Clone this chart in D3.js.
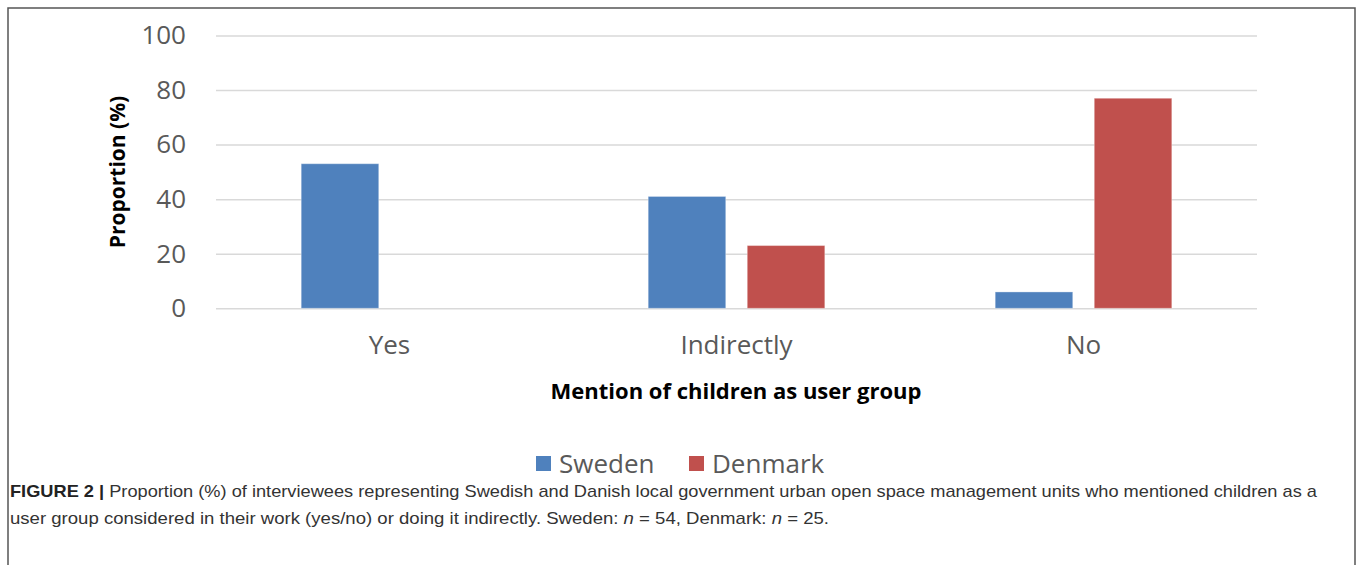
<!DOCTYPE html>
<meta charset="utf-8">
<style>
    body { margin: 0; background: #fff; }
    .tick text { font: 26px "Open Sans", sans-serif; fill: #595959; }
    .grid line { stroke: #d9d9d9; stroke-width: 1.5px; }
    .caption { font-family: "Liberation Sans Narrow", "Liberation Sans", sans-serif; font-size: 17px; fill: #333; }
</style>
<svg width="1358" height="565"></svg>
<script src="https://cdn.jsdelivr.net/npm/d3@7"></script>
<script>

    // answers per category, in percent
    const categories = ["Yes", "Indirectly", "No"];
    const series = ["Sweden", "Denmark"];
    const sweden = [53, 41, 6];
    const denmark = [0, 23, 77];
    const yTicks = [0, 20, 40, 60, 80, 100];
    const colors = ["#4f81bd", "#c0504d"];

    const captionLines = [
        "Proportion (%) of interviewees representing Swedish and Danish local government urban open space management units who mentioned children as a",
        "user group considered in their work (yes/no) or doing it indirectly. Sweden: "
    ];

    var svg = d3.select("svg");

    // frame round the figure
    svg.append("rect")
        .attr("x", 8).attr("y", 8)
        .attr("width", 1347).attr("height", 600)
        .attr("fill", "none")
        .attr("stroke", "#555")
        .attr("stroke-width", 1.5);

    var x0 = d3.scaleBand().domain(categories).range([216, 1257]).padding(0);
    var x1 = d3.scaleBand().domain(series).range([0, x0.bandwidth()])
        .paddingInner(0.217).paddingOuter(0.86);
    var y = d3.scaleLinear().domain([0, 100]).range([308.3, 35.5]);

    // gridlines + tick labels
    var yAxis = svg.append("g")
        .attr("class", "grid")
        .attr("transform", "translate(216,0)")
        .call(d3.axisLeft(y).tickValues(yTicks).tickSize(-(1257 - 216)).tickPadding(30));
    yAxis.select(".domain").remove();

    var rows = categories.map(function(c, i) {
        return { cat: c, values: [sweden[i], denmark[i]] };
    });

    var groups = svg.append("g").selectAll("g")
        .data(rows)
        .join("g")
        .attr("transform", function(d) { return "translate(" + x0(d.cat) + ",0)"; });

    groups.selectAll("rect")
        .data(function(d) { return d.values.map(function(v, j) { return { s: series[j], v: v, j: j }; }); })
        .join("rect")
        .filter(function(d) { return d.v > 0; })
        .attr("x", function(d) { return x1(d.s); })
        .attr("y", function(d) { return y(d.v); })
        .attr("width", x1.bandwidth())
        .attr("height", function(d) { return y(0) - y(d.v); })
        .attr("fill", function(d) { return colors[d.j]; })
        .attr("stroke", "#fff").attr("stroke-opacity", 0.35).attr("stroke-width", 1);

    // category labels
    var xAxis = svg.append("g")
        .attr("transform", "translate(0,308.3)")
        .call(d3.axisBottom(x0).tickSize(0).tickPadding(27));
    xAxis.select(".domain").remove();

    svg.append("text")
        .attr("transform", "translate(125,172) rotate(-90)")
        .attr("text-anchor", "middle")
        .style("font", "bold 21px 'Open Sans', sans-serif")
        .text("Proportion (%)");

    svg.append("text")
        .attr("x", 736).attr("y", 399)
        .attr("text-anchor", "middle")
        .style("font", "bold 22px 'Open Sans', sans-serif")
        .text("Mention of children as user group");

    // legend
    var legendX = [536, 689];
    var legend = svg.append("g").selectAll("g")
        .data(series)
        .join("g")
        .attr("transform", function(d, i) { return "translate(" + legendX[i] + ",456)"; });
    legend.append("rect")
        .attr("width", 15).attr("height", 15)
        .attr("fill", function(d, i) { return colors[i]; });
    legend.append("text")
        .attr("x", 23).attr("y", 17)
        .style("font", "26px 'Open Sans', sans-serif")
        .attr("fill", "#595959")
        .text(function(d) { return d; });

    // caption, stretched to the width it has in the journal layout
    var c1 = svg.append("text").attr("class", "caption").attr("x", 10).attr("y", 497)
        .attr("textLength", 1307).attr("lengthAdjust", "spacingAndGlyphs");
    c1.append("tspan").attr("font-weight", "bold").attr("fill", "#222").text("FIGURE 2 | ");
    c1.append("tspan").text(captionLines[0]);

    var c2 = svg.append("text").attr("class", "caption").attr("x", 10).attr("y", 524)
        .attr("textLength", 819).attr("lengthAdjust", "spacingAndGlyphs");
    c2.append("tspan").text(captionLines[1]);
    c2.append("tspan").attr("font-style", "italic").text("n");
    c2.append("tspan").text(" = 54, Denmark: ");
    c2.append("tspan").attr("font-style", "italic").text("n");
    c2.append("tspan").text(" = 25.");

</script>
